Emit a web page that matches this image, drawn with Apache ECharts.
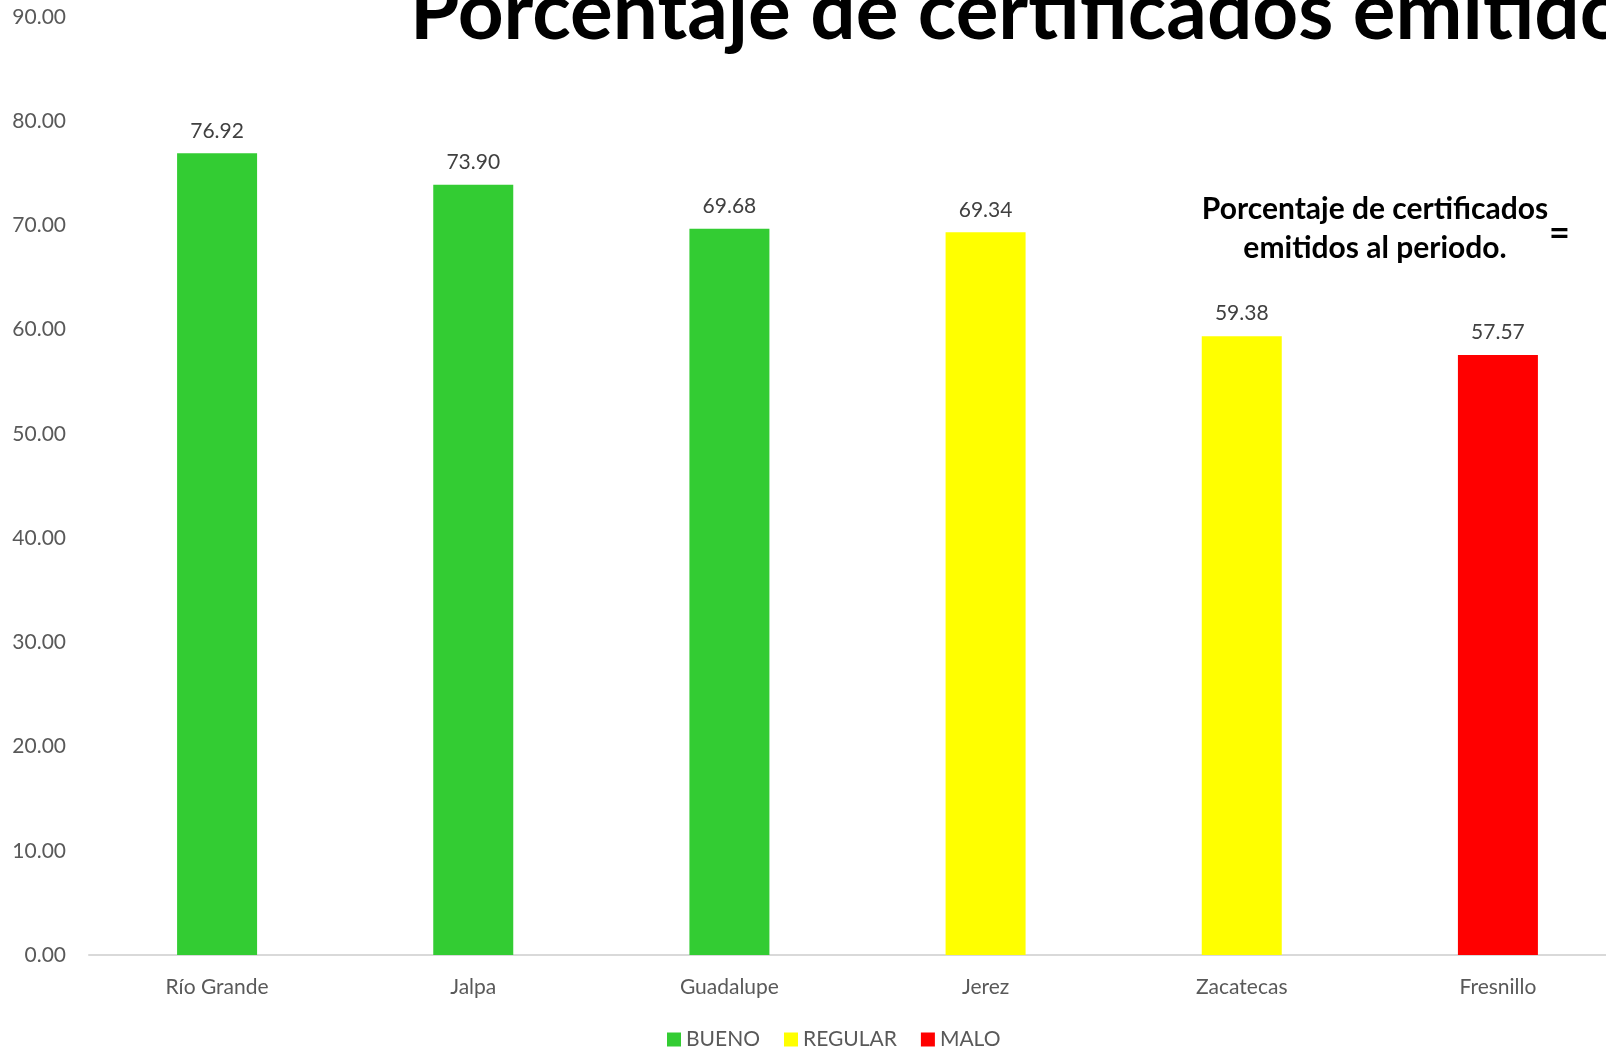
<!DOCTYPE html>
<html style="height: 100%">
<head>
    <meta charset="utf-8">
    <script type="text/javascript" src="https://cdn.jsdelivr.net/npm/echarts@6/dist/echarts.min.js"></script>
</head>
<body style="height: 100%; margin: 0; background: #fff">
<div id="container" style="width: 1606px; height: 1049px"></div>
<script type="text/javascript">
    var categorias = ['Río Grande', 'Jalpa', 'Guadalupe', 'Jerez', 'Zacatecas', 'Fresnillo'];
    // un valor por categoria, '-' donde la serie no aplica
    var bueno = [76.92, 73.90, 69.68, '-', '-', '-'];
    var regular = ['-', '-', '-', 69.34, 59.38, '-'];
    var malo = ['-', '-', '-', '-', '-', 57.57];

    var fuente = 'Lato';
    var dom = document.getElementById("container");
    var myChart = echarts.init(dom);

    function serie(nombre, datos, color) {
        return {
            name: nombre,
            type: 'bar',
            stack: 'total',
            data: datos,
            barWidth: 80,
            itemStyle: { color: color },
            label: {
                show: true,
                position: 'top',
                distance: 12,
                color: '#404040',
                fontFamily: fuente,
                fontSize: 21,
                formatter: function (p) { return p.value.toFixed(2); }
            }
        };
    }

    var option = {
        animation: false,
        backgroundColor: '#fff',
        textStyle: { fontFamily: fuente },
        // el area del grafico se sale del lienzo por la derecha
        grid: { left: 89, right: -20, top: 17, bottom: 94, outerBoundsMode: 'none', containLabel: false },
        legend: {
            top: 1024,
            left: 662,
            itemWidth: 14,
            itemHeight: 14,
            itemGap: 24,
            icon: 'rect',
            textStyle: { color: '#595959', fontSize: 21, fontFamily: fuente },
            data: ['BUENO', 'REGULAR', 'MALO']
        },
        xAxis: {
            type: 'category',
            data: categorias,
            axisLine: { lineStyle: { color: '#d9d9d9', width: 2 } },
            axisTick: { show: false },
            axisLabel: { color: '#595959', fontSize: 21, fontFamily: fuente, margin: 22 }
        },
        yAxis: {
            type: 'value',
            min: 0,
            max: 90,
            interval: 10,
            axisLine: { show: false },
            axisTick: { show: false },
            splitLine: { show: false },
            axisLabel: {
                color: '#595959', fontSize: 21, fontFamily: fuente, margin: 23,
                formatter: function (v) { return v.toFixed(2); }
            }
        },
        graphic: [
            {
                type: 'text', x: 410, y: -27,
                style: { text: 'Porcentaje de certificados emitidos al periodo.', font: 'bold 80px Lato', fill: '#000' }
            },
            {
                type: 'text', x: 1375, y: 190,
                style: {
                    text: 'Porcentaje de certificados\nemitidos al periodo.', font: 'bold 30px Lato',
                    fill: '#000', align: 'center', lineHeight: 39
                }
            },
            {
                type: 'text', x: 1549, y: 215,
                style: { text: '=', font: 'bold 36px Lato', fill: '#000' }
            }
        ],
        series: [
            serie('BUENO', bueno, '#33CC33'),
            serie('REGULAR', regular, '#FFFF00'),
            serie('MALO', malo, '#FF0000')
        ]
    };
    myChart.setOption(option);
</script>
</body>
</html>
